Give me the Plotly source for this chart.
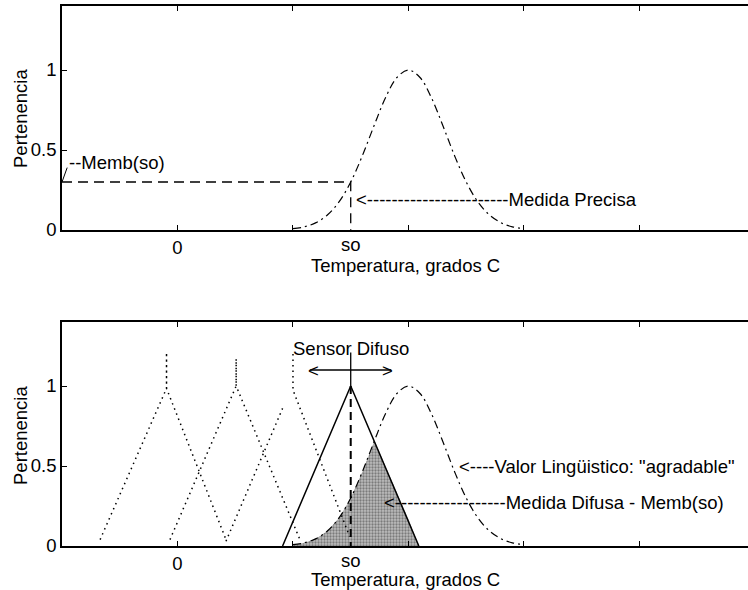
import plotly.graph_objects as go

# ---------------- data ----------------
so = 15
x_ticks = [0, 10, 20, 30, 40]
x_ticklabels = ["0", "", "", "", ""]
y_ticks = [0, 0.5, 1]
y_ticklabels = ["0", "0.5", "1"]

# "agradable" membership (dash-dot bell curve)
gauss_x = [10, 11, 12, 13, 14, 15, 16, 17, 18, 19, 20, 21, 22, 23, 24, 25, 26, 27, 28, 29, 30]
gauss_y = [0.008, 0.02, 0.046, 0.095, 0.177, 0.30, 0.463, 0.648, 0.825, 0.953, 1.0,
           0.953, 0.825, 0.648, 0.463, 0.30, 0.177, 0.095, 0.046, 0.02, 0.008]

memb_so = 0.30          # membership of the crisp measurement

# fuzzy sensor (solid triangle)
sensor_x = [9.1, 15, 20.9]
sensor_y = [0, 1, 0]

# other linguistic values (dotted triangles with a spike at the peak)
tri1_x = [-6.7, -0.95, -0.95, -0.95, 4.2]
tri1_y = [0.04, 0.985, 1.21, 0.985, 0.04]
tri2_x = [-0.65, 5.08, 5.08, 5.08, 10.6]
tri2_y = [0.04, 1.0, 1.17, 1.0, 0.04]
tri3_x = [4.2, 9.1, None, 10, 10, 14.9]
tri3_y = [0.03, 0.86, None, 1.2, 0.975, 0.06]

# fuzzy measurement (shaded min of sensor and "agradable")
shade_x = [10, 11, 12, 13, 14, 15, 16, 17, 17.06, 18, 19, 20, 20.9]
shade_y = [0.008, 0.02, 0.046, 0.095, 0.177, 0.30, 0.463, 0.648, 0.658, 0.5, 0.333, 0.167, 0]

# ---------------- figure ----------------
W, H = 748, 590
FONT = "Liberation Sans, Arial, Helvetica, sans-serif"
FS = 18.5

TOP_AX = (6, 230)      # pixel rows of top panel (top, y=0)
BOT_AX = (322, 546)    # pixel rows of bottom panel

def ydom(top_px, bot_px):
    return [(H - bot_px) / H, (H - top_px) / H]

def py(px):
    return (H - px) / H

fig = go.Figure()

# ---- top panel ----
fig.add_trace(go.Scatter(x=gauss_x, y=gauss_y, mode="lines", line_shape="spline",
                         line=dict(color="black", width=1.2, dash="8px,4px,2px,4px"),
                         xaxis="x", yaxis="y", hoverinfo="skip"))
fig.add_trace(go.Scatter(x=[-10, so, so], y=[memb_so, memb_so, 0], mode="lines",
                         line=dict(color="black", width=1.3, dash="10px,6px"),
                         xaxis="x", yaxis="y", hoverinfo="skip"))
fig.add_trace(go.Scatter(x=[-10, -9.55], y=[0.30, 0.39], mode="lines",
                         line=dict(color="black", width=1),
                         xaxis="x", yaxis="y", hoverinfo="skip"))

# ---- bottom panel ----
fig.add_trace(go.Scatter(x=shade_x, y=shade_y, mode="lines", fill="tozeroy",
                         line=dict(color="rgba(0,0,0,0)", width=0),
                         fillcolor="#a0a0a0",
                         fillpattern=dict(shape=".", fgcolor="#3a3a3a", bgcolor="#bdbdbd",
                                          size=3, solidity=0.45),
                         xaxis="x2", yaxis="y2", hoverinfo="skip"))
for tx, ty in [(tri1_x, tri1_y), (tri2_x, tri2_y), (tri3_x, tri3_y)]:
    fig.add_trace(go.Scatter(x=tx, y=ty, mode="lines", connectgaps=False,
                             line=dict(color="black", width=1.5, dash="1.5px,4px"),
                             xaxis="x2", yaxis="y2", hoverinfo="skip"))
fig.add_trace(go.Scatter(x=gauss_x, y=gauss_y, mode="lines", line_shape="spline",
                         line=dict(color="black", width=1.2, dash="8px,4px,2px,4px"),
                         xaxis="x2", yaxis="y2", hoverinfo="skip"))
fig.add_trace(go.Scatter(x=sensor_x, y=sensor_y, mode="lines",
                         line=dict(color="black", width=1.5),
                         xaxis="x2", yaxis="y2", hoverinfo="skip"))
fig.add_trace(go.Scatter(x=[so, so], y=[1, 0], mode="lines",
                         line=dict(color="black", width=2, dash="8px,5px"),
                         xaxis="x2", yaxis="y2", hoverinfo="skip"))
fig.add_trace(go.Scatter(x=[so, so], y=[1, 1.21], mode="lines",
                         line=dict(color="black", width=1.3),
                         xaxis="x2", yaxis="y2", hoverinfo="skip"))
fig.add_trace(go.Scatter(x=[11.5, 18.5], y=[1.1, 1.1], mode="lines",
                         line=dict(color="black", width=1.3),
                         xaxis="x2", yaxis="y2", hoverinfo="skip"))

axis_common = dict(showline=True, linecolor="black", linewidth=1.5,
                   ticks="inside", ticklen=5, tickwidth=1, tickcolor="black",
                   showgrid=False, zeroline=False, automargin=False,
                   tickfont=dict(family=FONT, size=FS, color="black"))

xcommon = dict(axis_common, range=[-10, 49.4], tickvals=x_ticks, ticktext=x_ticklabels,
               mirror="ticks", domain=[0, 1])
ycommon = dict(axis_common, range=[0, 1.4], tickvals=y_ticks, ticktext=y_ticklabels,
               mirror=False)

fig.update_layout(
    width=W, height=H,
    margin=dict(l=62, r=0, t=0, b=0, autoexpand=False),
    paper_bgcolor="white", plot_bgcolor="white",
    showlegend=False,
    font=dict(family=FONT, size=FS, color="black"),
    xaxis=dict(xcommon, anchor="y"),
    yaxis=dict(ycommon, anchor="x", domain=ydom(*TOP_AX)),
    xaxis2=dict(xcommon, anchor="y2"),
    yaxis2=dict(ycommon, anchor="x2", domain=ydom(*BOT_AX)),
)

def note(text, x, y, xref, yref, **kw):
    d = dict(text=text, x=x, y=y, xref=xref, yref=yref, showarrow=False,
             font=dict(family=FONT, size=FS, color="black"))
    d.update(kw)
    fig.add_annotation(**d)

ylab_x = -42 / 686

# top panel texts
note("so", so, 0, "x", "y", yanchor="top", yshift=-2)
note("--Memb(so)", -9.6, 0.42, "x", "y", xanchor="left")
note("<" + "-" * 23 + "Medida Precisa", 15.25, 0.19, "x", "y", xanchor="left")
note("Temperatura, grados C", 0.5, py(TOP_AX[1] + 35), "paper", "paper",
     xanchor="center", yanchor="middle")
note("Pertenencia", ylab_x, py(119), "paper", "paper", textangle=-90,
     xanchor="center", yanchor="middle")

# bottom panel texts
note("so", so, 0, "x2", "y2", yanchor="top", yshift=-2)
note("Sensor Difuso", so, 1.235, "x2", "y2")
note("<", 11.14, 1.1, "x2", "y2", xanchor="left")
note(">", 18.8, 1.1, "x2", "y2", xanchor="right")
note("<----Valor Lingüistico: \"agradable\"", 24.2, 0.5, "x2", "y2", xanchor="left")
note("<" + "-" * 18 + "Medida Difusa - Memb(so)", 17.75, 0.27, "x2", "y2", xanchor="left")
note("Temperatura, grados C", 0.5, py(BOT_AX[1] + 33), "paper", "paper",
     xanchor="center", yanchor="middle")
note("Pertenencia", ylab_x, py(436), "paper", "paper", textangle=-90,
     xanchor="center", yanchor="middle")

fig.write_html("out.html")
